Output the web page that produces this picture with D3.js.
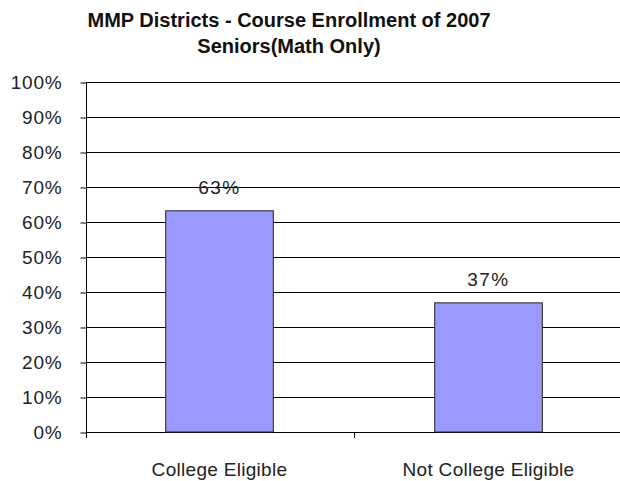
<!DOCTYPE html>
<html><head><meta charset="utf-8">
<script src="https://cdn.jsdelivr.net/npm/d3@7"></script>
<style>body{margin:0;background:#fff;}svg{display:block;}</style>
</head><body>
<script>
const categories = ["College Eligible", "Not College Eligible"];
const values = [63.2, 36.9];
const valueLabels = ["63%", "37%"];
const yTicks = [0,10,20,30,40,50,60,70,80,90,100];
const titleLines = ["MMP Districts - Course Enrollment of 2007", "Seniors(Math Only)"];

const W = 620, H = 481;
const svg = d3.select("body").append("svg").attr("width", W).attr("height", H);
const font = "'Liberation Sans', Arial, sans-serif";

const x = d3.scaleBand().domain(categories).range([85, 623]).padding(0);
const y = d3.scaleLinear().domain([0, 100]).range([432, 82]);

// gridlines
svg.append("g").selectAll("line").data(yTicks.filter(d => d > 0)).join("line")
  .attr("x1", 86).attr("x2", W).attr("y1", d => y(d) + 0.5).attr("y2", d => y(d) + 0.5)
  .attr("stroke", "#000").attr("stroke-width", 1);

// y axis
const yAxis = d3.axisLeft(y).tickValues(yTicks).tickFormat(d => d + "%").tickSize(6).tickPadding(18);
const gy = svg.append("g").attr("transform", "translate(86.5,0.5)").call(yAxis);
gy.select(".domain").remove();
gy.selectAll(".tick line").attr("stroke", "#000");
gy.selectAll(".tick text").attr("font-family", font).attr("font-size", 19).attr("fill", "#222")
  .attr("letter-spacing", 0.8);
svg.append("line").attr("x1", 86.5).attr("x2", 86.5).attr("y1", 82).attr("y2", 438).attr("stroke", "#000");

// x axis line and ticks at category boundaries
svg.append("line").attr("x1", 86).attr("x2", W).attr("y1", y(0) + 0.5).attr("y2", y(0) + 0.5).attr("stroke", "#000");
svg.append("g").selectAll("line").data(categories.slice(1)).join("line")
  .attr("x1", d => Math.round(x(d)) + 0.5).attr("x2", d => Math.round(x(d)) + 0.5)
  .attr("y1", y(0)).attr("y2", y(0) + 6).attr("stroke", "#000");

// bars
const bw = x.bandwidth() * 0.4;
svg.append("g").selectAll("rect").data(values).join("rect")
  .attr("x", (d, i) => x(categories[i]) + x.bandwidth() / 2 - bw / 2)
  .attr("y", d => y(d))
  .attr("width", bw)
  .attr("height", d => y(0) - y(d))
  .attr("fill", "#9999FF").attr("stroke", "#222").attr("stroke-width", 1);

// value labels
svg.append("g").selectAll("text").data(values).join("text")
  .attr("x", (d, i) => x(categories[i]) + x.bandwidth() / 2)
  .attr("y", d => y(d) - 17)
  .attr("text-anchor", "middle").attr("font-family", font).attr("font-size", 19).attr("fill", "#222")
  .attr("letter-spacing", 1.5)
  .text((d, i) => valueLabels[i]);

// category labels
svg.append("g").selectAll("text").data(categories).join("text")
  .attr("x", d => x(d) + x.bandwidth() / 2)
  .attr("y", 476)
  .attr("text-anchor", "middle").attr("font-family", font).attr("font-size", 19).attr("fill", "#222")
  .attr("letter-spacing", 0.3)
  .text(d => d);

// title
svg.append("g").selectAll("text").data(titleLines).join("text")
  .attr("x", 289).attr("y", (d, i) => 27 + i * 26)
  .attr("text-anchor", "middle").attr("font-family", font).attr("font-size", 20).attr("font-weight", "bold").attr("fill", "#111")
  .text(d => d);
</script>
</body></html>
